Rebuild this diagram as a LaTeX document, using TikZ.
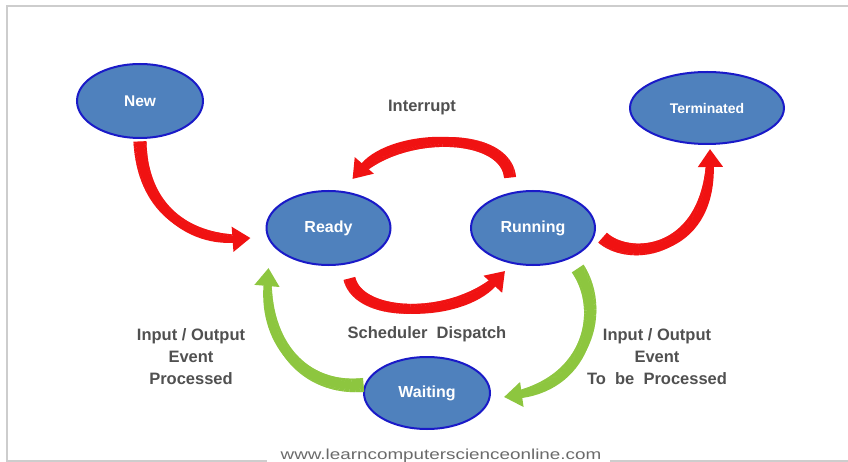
\documentclass[tikz,border=0pt]{standalone}
\usepackage{fontspec}
\setmainfont{Liberation Sans}
\newfontfamily\wmfont[FakeStretch=1.3]{Liberation Sans}
\usetikzlibrary{shapes.geometric,arrows.meta,decorations.markings}
\definecolor{stfill}{HTML}{4F81BD}
\definecolor{stline}{HTML}{1A1AC8}
\definecolor{ared}{HTML}{F01212}
\definecolor{agreen}{HTML}{8DC63F}
\definecolor{lblgray}{HTML}{505050}
\definecolor{wmgray}{HTML}{6A6A6A}
\definecolor{framegray}{HTML}{CDCDCD}
\begin{document}
\begin{tikzpicture}[x=1pt,y=-1pt,
  state/.style={ellipse, draw=stline, line width=2pt, fill=stfill, text=white,
    font=\bfseries\fontsize{16}{19}\selectfont, inner sep=0pt},
  lbl/.style={text=lblgray, font=\bfseries\fontsize{16.5}{22}\selectfont, align=center},
  redarrow/.style={draw=ared, line width=7pt, -{Triangle[width=24pt,length=18pt]}},
  greenarrow/.style={draw=agreen, line width=7pt, -{Triangle[width=24pt,length=18pt]}},
  taper/.style n args={3}{decorate, decoration={markings,
    mark=between positions 0 and -19pt step 0.8pt with {%
      \pgfmathsetmacro\tapw{0.5*(#1-(#1-#2)*\pgfkeysvalueof{/pgf/decoration/mark info/distance from start}/\pgfdecoratedpathlength)}%
      \fill[#3] (-0.6,-\tapw) rectangle (0.6,\tapw);}}},
  frameline/.style={draw=framegray, line width=1.5pt}
]
\useasboundingbox (0,0) rectangle (848,462);
\path[frameline] (7,462) -- (7,6) -- (848,6);
\path[frameline] (7,461) -- (267,461);
\path[frameline] (610,461) -- (848,461);

% states
\node[state, minimum width=126pt, minimum height=74pt] (new) at (140,101) {\fontsize{15.5}{17}\selectfont New};
\node[state, minimum width=154pt, minimum height=72pt] (term) at (707,108) {\fontsize{14}{16}\selectfont Terminated};
\node[state, minimum width=124pt, minimum height=74pt] (ready) at (328.5,228) {Ready};
\node[state, minimum width=124pt, minimum height=74pt] (run) at (533,228) {Running};
\node[state, minimum width=126pt, minimum height=72pt] (wait) at (427,393) {Waiting};

% labels
\node[lbl] (lint) at (422,108) {Interrupt};
\node[lbl] (lsched) at (427,334) {Scheduler\ \ Dispatch};
\node[lbl] (lleft) at (191,357) {Input / Output\\Event\\Processed};
\node[lbl] (lright) at (657,357) {Input / Output\\Event\\To\ \ be\ \ Processed};
\node[text=wmgray, font=\wmfont\fontsize{14.5}{16}\selectfont, anchor=base, inner sep=0pt] (web) at (441,459) {www.learncomputerscienceonline.com};

% transitions
\draw[redarrow] ([shift={(0,3)}]new.south) .. controls (143,215) and (195,242) .. ([shift={(-15,10)}]ready.west);
\path[taper={13}{7}{ared}] ([shift={(0,3)}]new.south) .. controls (143,215) and (195,242) .. ([shift={(-15,10)}]ready.west);

\draw[redarrow] ([shift={(-23,-13)}]run.north) .. controls (505,130) and (395,130) .. ([shift={(24,-11)}]ready.north);
\path[taper={12}{7}{ared}] ([shift={(-23,-13)}]run.north) .. controls (505,130) and (395,130) .. ([shift={(24,-11)}]ready.north);

\draw[redarrow] ([shift={(21,13)}]ready.south) .. controls (360,320) and (460,320) .. ([shift={(-28,5)}]run.south);
\path[taper={12}{7}{ared}] ([shift={(21,13)}]ready.south) .. controls (360,320) and (460,320) .. ([shift={(-28,5)}]run.south);

\draw[redarrow] ([shift={(7,10)}]run.east) .. controls (630,262) and (712,255) .. ([shift={(3,4)}]term.south);
\path[taper={13}{7}{ared}] ([shift={(7,10)}]run.east) .. controls (630,262) and (712,255) .. ([shift={(3,4)}]term.south);

\draw[greenarrow] ([shift={(0,-8)}]wait.west) .. controls (305,390) and (262,345) .. ([shift={(-60,2)}]ready.south);
\path[taper={14}{7}{agreen}] ([shift={(0,-8)}]wait.west) .. controls (305,390) and (262,345) .. ([shift={(-60,2)}]ready.south);

\draw[greenarrow] ([shift={(45,3)}]run.south) .. controls (605,310) and (590,385) .. ([shift={(13,4)}]wait.east);
\path[taper={14}{7}{agreen}] ([shift={(45,3)}]run.south) .. controls (605,310) and (590,385) .. ([shift={(13,4)}]wait.east);
\end{tikzpicture}
\end{document}
